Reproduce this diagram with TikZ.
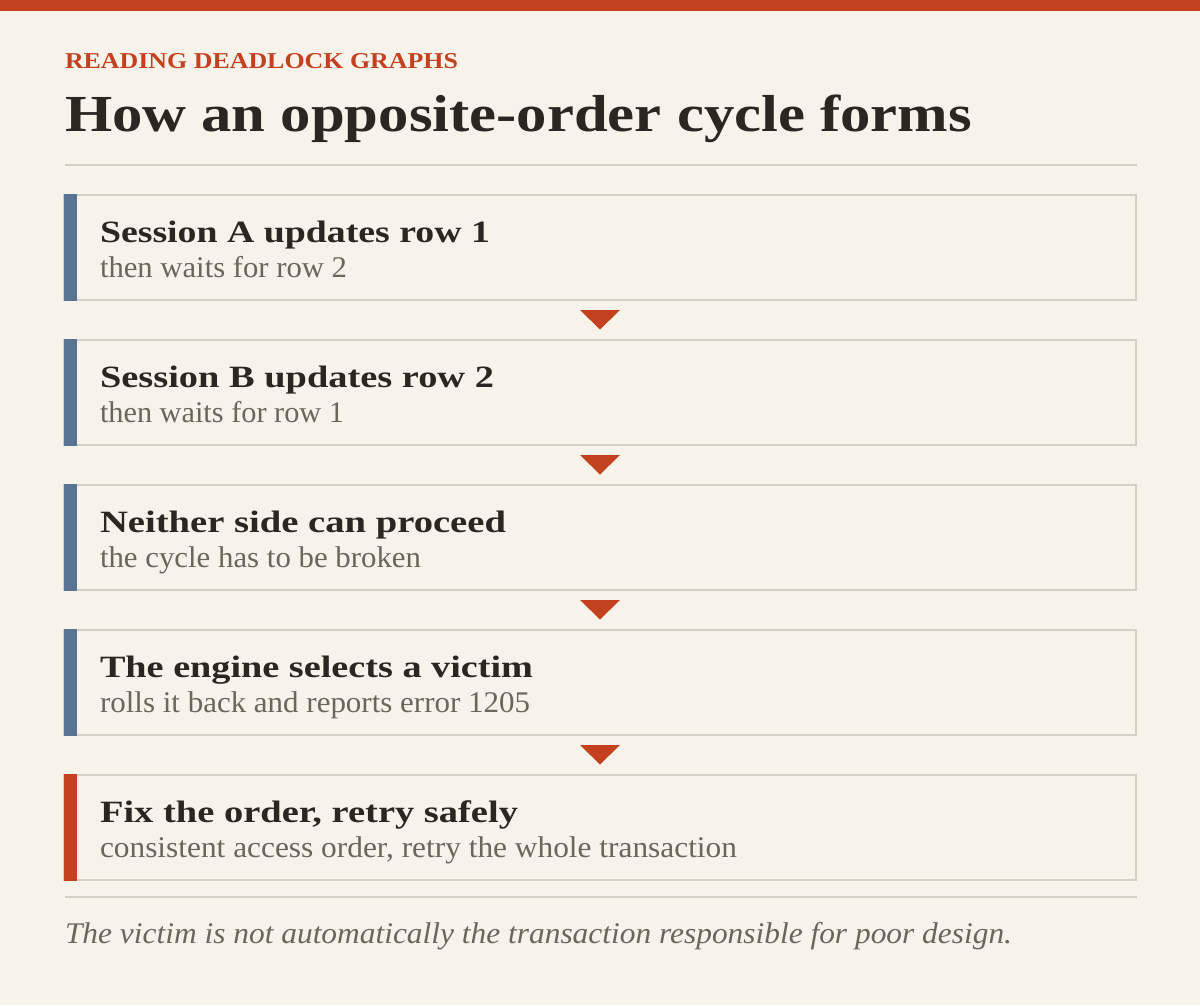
\documentclass[tikz,border=0pt]{standalone}
\usepackage{fontspec}
\usepackage{graphicx}
\setmainfont{Liberation Serif}
\usetikzlibrary{calc}
\definecolor{bgc}{HTML}{F7F3EA}
\definecolor{rust}{HTML}{C4411F}
\definecolor{slate}{HTML}{587491}
\definecolor{ink}{HTML}{2A2622}
\definecolor{muted}{HTML}{6B655C}
\definecolor{rulec}{HTML}{D7CFC3}
\newcommand\fitw[2]{\resizebox{#1pt}{\height}{#2}}
\newcommand\cardtitle[2]{\fitw{#1}{\fontsize{31}{36}\selectfont\bfseries #2}}
\newcommand\cardsub[2]{\fitw{#1}{\fontsize{30}{36}\selectfont #2}}
\tikzset{
  txt/.style={anchor=base west, inner sep=0pt, outer sep=0pt},
  card/.style={draw=rulec, line width=2pt, fill=bgc, anchor=north west,
    minimum width=1072pt, minimum height=105pt, inner sep=0pt, outer sep=0pt},
  rulel/.style={draw=rulec, line width=2pt},
  pointer/.style={fill=rust},
}
\begin{document}
\begin{tikzpicture}[x=1pt,y=-1pt]
\useasboundingbox (0,0) rectangle (1200,1005);
\fill[bgc] (0,0) rectangle (1200,1005);
\fill[rust] (0,0) rectangle (1200,10.5);
\node[txt, text=rust] (kicker) at (65,68.3) {\fitw{393}{\fontsize{22.7}{26}\selectfont\bfseries READING DEADLOCK GRAPHS}};
\node[txt, text=ink] (title) at (65,131.7) {\fitw{907}{\fontsize{52}{60}\selectfont\bfseries How an opposite-order cycle forms}};
\draw[rulel] (65,164.5) -- (1137,164.5);
% cards
\node[card] (b1) at (64,195) {};
\node[card] (b2) at (64,340) {};
\node[card] (b3) at (64,485) {};
\node[card] (b4) at (64,630) {};
\node[card] (b5) at (64,775) {};
\foreach \b/\c in {b1/slate,b2/slate,b3/slate,b4/slate,b5/rust}{
  \fill[\c] ($(\b.north west)+(0,-1)$) rectangle ($(\b.south west)+(13,1)$);
}
\foreach \b in {b1,b2,b3,b4}{
  \fill[pointer] ($(\b.south)+(-20,10)$) -- ($(\b.south)+(20,10)$) -- ($(\b.south)+(0,29.5)$) -- cycle;
}
\node[txt, text=ink] (t1) at ($(b1.north west)+(36,47)$) {\cardtitle{390}{Session A updates row 1}};
\node[txt, text=muted] (s1) at ($(b1.north west)+(36,82)$) {\cardsub{247}{then waits for row 2}};
\node[txt, text=ink] (t2) at ($(b2.north west)+(36,47)$) {\cardtitle{394}{Session B updates row 2}};
\node[txt, text=muted] (s2) at ($(b2.north west)+(36,82)$) {\cardsub{244}{then waits for row 1}};
\node[txt, text=ink] (t3) at ($(b3.north west)+(36,47)$) {\cardtitle{406}{Neither side can proceed}};
\node[txt, text=muted] (s3) at ($(b3.north west)+(36,82)$) {\cardsub{321}{the cycle has to be broken}};
\node[txt, text=ink] (t4) at ($(b4.north west)+(36,47)$) {\cardtitle{433}{The engine selects a victim}};
\node[txt, text=muted] (s4) at ($(b4.north west)+(36,82)$) {\cardsub{430}{rolls it back and reports error 1205}};
\node[txt, text=ink] (t5) at ($(b5.north west)+(36,47)$) {\cardtitle{418}{Fix the order, retry safely}};
\node[txt, text=muted] (s5) at ($(b5.north west)+(36,82)$) {\cardsub{637}{consistent access order, retry the whole transaction}};
\draw[rulel] (65,896.5) -- (1137,896.5);
\node[txt, text=muted] (foot) at (65,943.3) {\fitw{947}{\fontsize{30}{36}\selectfont\itshape The victim is not automatically the transaction responsible for poor design.}};
\end{tikzpicture}
\end{document}
